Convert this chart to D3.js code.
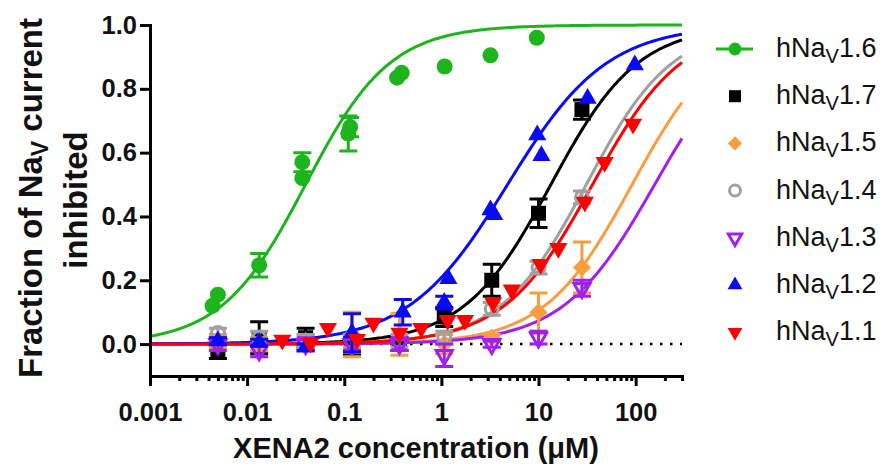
<!DOCTYPE html>
<html>
<head>
<meta charset="utf-8">
<script src="https://cdn.jsdelivr.net/npm/d3@7"></script>
<style>
  body { margin: 0; background: #fff; }
  svg { display: block; font-family: "Liberation Sans", Arial, sans-serif; }
</style>
</head>
<body>
<svg width="888" height="466"></svg>
<script>
// Series names (subtype number after "hNaV")
const subtypes = ["1.6", "1.7", "1.5", "1.4", "1.3", "1.2", "1.1"];

// Fit parameters (IC50 in uM, Hill slope)
const ic50 = [0.04, 13.4, 92, 31, 157, 4.8, 36];
const hill = [1.0, 0.97, 0.96, 0.98, 0.92, 0.85, 0.95];

// hNaV1.6
const conc16 = [0.0044, 0.005, 0.0133, 0.037, 0.037, 0.11, 0.115, 0.35, 0.39, 1.08, 3.2, 9.6];
const inh16 = [0.12, 0.155, 0.247, 0.52, 0.57, 0.66, 0.68, 0.835, 0.85, 0.87, 0.905, 0.96];
const sem16 = [0, 0, 0.037, 0, 0.03, 0.055, 0.03, 0, 0, 0, 0, 0];

// hNaV1.7
const conc17 = [0.005, 0.0133, 0.04, 0.12, 0.37, 1.07, 3.3, 10, 28];
const inh17 = [-0.025, 0.02, 0.02, -0.005, 0.0, 0.085, 0.2, 0.41, 0.735];
const sem17 = [0.02, 0.05, 0.03, 0.03, 0.02, 0.03, 0.05, 0.045, 0.03];

// hNaV1.5
const conc15 = [0.005, 0.0133, 0.04, 0.12, 0.37, 1.07, 3.3, 10, 28];
const inh15 = [0.01, 0.0, 0.01, 0.03, 0.03, 0.0, 0.02, 0.1, 0.24];
const sem15 = [0.02, 0.02, 0.02, 0.07, 0.065, 0.03, 0.01, 0.06, 0.08];

// hNaV1.4
const conc14 = [0.005, 0.0133, 0.04, 0.12, 0.37, 1.07, 3.3, 10, 28];
const inh14 = [0.035, 0.02, 0.01, 0.01, 0.01, 0.02, 0.11, 0.24, 0.46];
const sem14 = [0.015, 0.02, 0.02, 0.02, 0.02, 0.02, 0.02, 0.02, 0.02];

// hNaV1.3
const conc13 = [0.005, 0.0133, 0.04, 0.12, 0.37, 1.07, 3.3, 10, 28];
const inh13 = [0.0, -0.02, 0.0, 0.0, 0.0, -0.035, 0.0, 0.02, 0.175];
const sem13 = [0.02, 0.02, 0.02, 0.02, 0.02, 0.035, 0.01, 0.02, 0.025];

// hNaV1.2
const conc12 = [0.005, 0.0133, 0.04, 0.12, 0.4, 1.07, 1.18, 3.2, 3.5, 9.7, 10.7, 32, 98];
const inh12 = [0.01, 0.005, -0.01, 0.035, 0.1, 0.13, 0.205, 0.42, 0.405, 0.655, 0.59, 0.77, 0.875];
const sem12 = [0.01, 0.01, 0.01, 0.06, 0.04, 0.02, 0, 0, 0, 0, 0, 0, 0];

// hNaV1.1
const conc11 = [0.023, 0.045, 0.068, 0.135, 0.2, 0.37, 0.62, 1.16, 1.75, 3.4, 5.3, 10.5, 16, 30, 48, 94];
const inh11 = [0.013, 0.003, 0.05, 0.015, 0.066, 0.035, 0.05, 0.075, 0.075, 0.13, 0.17, 0.25, 0.3, 0.445, 0.57, 0.69];
const sem11 = conc11.map(() => 0);

// Axis ticks
const xTicks = [0.001, 0.01, 0.1, 1, 10, 100];
const xTickLabels = ["0.001", "0.01", "0.1", "1", "10", "100"];
const yTicks = [0, 0.2, 0.4, 0.6, 0.8, 1.0];

// custom marker shapes (size = square of width)
const triUp = { draw(c, s) { const w = Math.sqrt(s), h = w * 0.866; c.moveTo(0, -h * 2 / 3); c.lineTo(w / 2, h / 3); c.lineTo(-w / 2, h / 3); c.closePath(); } };
const triDown = { draw(c, s) { const w = Math.sqrt(s), h = w * 0.866; c.moveTo(-w / 2, -h / 3); c.lineTo(w / 2, -h / 3); c.lineTo(0, h * 2 / 3); c.closePath(); } };
const diamond = { draw(c, s) { const r = Math.sqrt(s) / 2; c.moveTo(0, -r); c.lineTo(r, 0); c.lineTo(0, r); c.lineTo(-r, 0); c.closePath(); } };

const styles = [
  { color: "#1db41d", type: d3.symbolCircle, size: Math.PI * 64, leg: Math.PI * 42, open: false },
  { color: "#000000", type: d3.symbolSquare, size: 225, leg: 144, open: false },
  { color: "#f99d3e", type: diamond, size: 324, leg: 200, open: false },
  { color: "#a0a0a0", type: d3.symbolCircle, size: Math.PI * 42, leg: Math.PI * 30, open: true },
  { color: "#a020f0", type: triDown, size: 260, leg: 180, open: true },
  { color: "#0a0af5", type: triUp, size: 330, leg: 220, open: false },
  { color: "#ff0000", type: triDown, size: 330, leg: 220, open: false }
];

const concs = [conc16, conc17, conc15, conc14, conc13, conc12, conc11];
const inhs = [inh16, inh17, inh15, inh14, inh13, inh12, inh11];
const sems = [sem16, sem17, sem15, sem14, sem13, sem12, sem11];

const series = subtypes.map((s, i) => ({
  name: s,
  ic50: ic50[i],
  hill: hill[i],
  style: styles[i],
  points: concs[i].map((c, j) => ({ c: c, v: inhs[i][j], e: sems[i][j] }))
}));

const svg = d3.select("svg");

const x = d3.scaleLog().domain([0.001, 300]).range([150, 682]);
const y = d3.scaleLinear().domain([-0.1, 1.0]).range([376, 25]);

// dotted zero line
svg.append("line")
  .attr("x1", x(0.001)).attr("x2", x(300))
  .attr("y1", y(0)).attr("y2", y(0))
  .attr("stroke", "#000").attr("stroke-width", 2.5)
  .attr("stroke-dasharray", "2.5 7.5");

// fitted curves
const xs = d3.range(0, 301).map(i => Math.pow(10, -3 + i * (Math.log10(300) + 3) / 300));
const line = d3.line().x(d => x(d[0])).y(d => y(d[1]));

series.forEach(s => {
  const pts = xs.map(c => [c, 1 / (1 + Math.pow(s.ic50 / c, s.hill))]);
  svg.append("path")
    .attr("d", line(pts))
    .attr("fill", "none")
    .attr("stroke", s.style.color)
    .attr("stroke-width", 3);
});

// error bars and markers
series.forEach(s => {
  const g = svg.append("g");
  const bars = s.points.filter(p => p.e > 0);
  g.selectAll(".eb").data(bars).join("path")
    .attr("d", p => {
      const cx = x(p.c), y0 = y(p.v - p.e), y1 = y(p.v + p.e);
      return `M${cx},${y0}V${y1}M${cx - 9},${y1}H${cx + 9}M${cx - 9},${y0}H${cx + 9}`;
    })
    .attr("fill", "none")
    .attr("stroke", s.style.color)
    .attr("stroke-width", 3);

  g.selectAll(".pt").data(s.points).join("path")
    .attr("transform", p => `translate(${x(p.c)},${y(p.v)})`)
    .attr("d", d3.symbol().type(s.style.type).size(s.style.size))
    .attr("fill", s.style.open ? "none" : s.style.color)
    .attr("stroke", s.style.open ? s.style.color : "none")
    .attr("stroke-width", 3);
});

// axes
const yAxis = d3.axisLeft(y).tickValues(yTicks).tickFormat(d3.format(".1f"))
  .tickSize(10).tickSizeOuter(0).tickPadding(3);
const gy = svg.append("g").attr("transform", `translate(${x(0.001)},0)`).call(yAxis);

const xAxis = d3.axisBottom(x).tickValues(xTicks).tickFormat((d, i) => xTickLabels[i])
  .tickSize(10).tickSizeOuter(0).tickPadding(17);
const gx = svg.append("g").attr("transform", `translate(0,${y(-0.1)})`).call(xAxis);

const minor = [];
[-3, -2, -1, 0, 1, 2].forEach(k => d3.range(2, 10).forEach(m => {
  const v = m * Math.pow(10, k);
  if (v <= 300) minor.push(v);
}));
svg.append("g").attr("transform", `translate(0,${y(-0.1)})`)
  .call(d3.axisBottom(x).tickValues(minor).tickFormat("").tickSize(5).tickSizeOuter(0))
  .call(g => g.select(".domain").remove());

svg.selectAll(".tick line").attr("stroke", "#000").attr("stroke-width", 3);
svg.selectAll(".domain").attr("stroke", "#000").attr("stroke-width", 3).attr("stroke-linecap", "square");
[gx, gy].forEach(g => g.selectAll(".tick text")
  .attr("font-family", "Liberation Sans, Arial, sans-serif")
  .attr("font-size", 25.5).attr("font-weight", "bold").attr("fill", "#111"));

// axis titles
svg.append("text")
  .attr("x", 416).attr("y", 458)
  .attr("text-anchor", "middle")
  .attr("font-size", 29).attr("font-weight", "bold").attr("fill", "#111")
  .text("XENA2 concentration (\u03bcM)");

const yl = svg.append("text")
  .attr("transform", "translate(42,198) rotate(-90)")
  .attr("text-anchor", "middle")
  .attr("font-size", 33).attr("font-weight", "bold").attr("fill", "#111");
yl.append("tspan").text("Fraction of Na");
yl.append("tspan").attr("font-size", 23).attr("dy", 6).text("V");
yl.append("tspan").attr("dy", -6).text(" current");

svg.append("text")
  .attr("transform", "translate(87,200) rotate(-90)")
  .attr("text-anchor", "middle")
  .attr("font-size", 33).attr("font-weight", "bold").attr("fill", "#111")
  .text("inhibited");

// legend
const leg = svg.append("g");
series.forEach((s, i) => {
  const cy = 49 + i * 47.2;
  const g = leg.append("g").attr("transform", `translate(735,${cy})`);
  if (i === 0) {
    g.append("line").attr("x1", -19).attr("x2", 18)
      .attr("stroke", s.style.color).attr("stroke-width", 3);
  }
  g.append("path")
    .attr("d", d3.symbol().type(s.style.type).size(s.style.leg))
    .attr("fill", s.style.open ? "none" : s.style.color)
    .attr("stroke", s.style.open ? s.style.color : "none")
    .attr("stroke-width", 3);
  const t = g.append("text").attr("x", 41).attr("y", 8)
    .attr("font-size", 27).attr("fill", "#111");
  t.append("tspan").text("hNa");
  t.append("tspan").attr("font-size", 20).attr("dy", 6).text("V");
  t.append("tspan").attr("dy", -6).text(s.name);
});
</script>
</body>
</html>
